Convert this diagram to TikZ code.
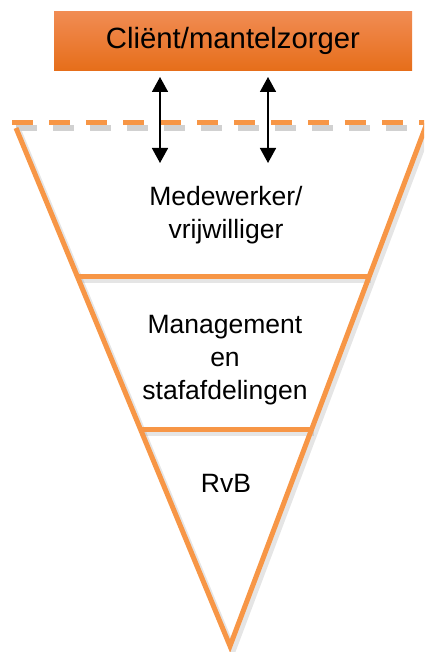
\documentclass[tikz,border=0pt]{standalone}
\usepackage{fontspec}
\setmainfont{Liberation Sans}
\usetikzlibrary{arrows.meta}
\definecolor{lineorange}{RGB}{247,150,70}
\definecolor{boxtop}{RGB}{241,140,84}
\definecolor{boxbot}{RGB}{230,110,26}
\tikzset{
  orangeline/.style={draw=lineorange,line width=5pt},
  shadowline/.style={draw=black,opacity=0.18,line width=6pt},
  label/.style={align=center,inner sep=0pt,font=\fontsize{26.5}{33}\selectfont},
  twoway/.style={line width=1.6pt,{Triangle[width=16pt,length=15pt]}-{Triangle[width=16pt,length=15pt]}},
}
\begin{document}
\begin{tikzpicture}[x=1pt,y=-1pt]
\useasboundingbox (0,0) rectangle (424,652);
\clip (0,0) rectangle (424,652);
% geometry
\coordinate (TL) at (16,128);
\coordinate (TR) at (427,123);
\coordinate (A) at (230,646);
\coordinate (L1) at (77.1,276);
\coordinate (R1) at (369.4,276);
\coordinate (L2) at (140.4,429);
\coordinate (R2) at (311.7,429);
\coordinate (DL) at (12,123);
\coordinate (DR) at (430,123);
% shadows
\draw[shadowline,dash pattern=on 21pt off 16pt] ([shift={(4,5)}]DL) -- ([shift={(4,5)}]DR);
\draw[shadowline,opacity=0.1] ([shift={(3,4)}]TL) -- ([shift={(3,4)}]A) -- ([shift={(3,4)}]TR);
\draw[shadowline,opacity=0.1] ([shift={(2,4)}]L1) -- ([shift={(2,4)}]R1);
\draw[shadowline,opacity=0.1] ([shift={(2,4)}]L2) -- ([shift={(2,4)}]R2);
% main lines
\draw[orangeline,dash pattern=on 21pt off 16pt] (DL) -- (DR);
\draw[orangeline,line join=miter] (TL) -- (A) -- (TR);
\draw[orangeline] (L1) -- (R1);
\draw[orangeline] (L2) -- (R2);
% top box
\node[minimum width=358pt,minimum height=59pt,inner sep=0pt,top color=boxtop,bottom color=boxbot,anchor=north west] (client) at (54,11) {};
\node[inner sep=0pt,font=\fontsize{29.3}{35}\selectfont] (clienttext) at (233,41) {Cliënt/mantelzorger};
% arrows
\coordinate (a1t) at (160,77);
\coordinate (a1b) at (160,163);
\coordinate (a2t) at (268,77);
\coordinate (a2b) at (268,163);
\draw[twoway] (a1t) -- (a1b);
\draw[twoway] (a2t) -- (a2b);
% labels
\node[label] (mw) at (226,215) {Medewerker/\\vrijwilliger};
\node[label] (man) at (225,360) {Management\\en\\stafafdelingen};
\node[label] (rvb) at (226,483) {RvB};
\end{tikzpicture}
\end{document}
